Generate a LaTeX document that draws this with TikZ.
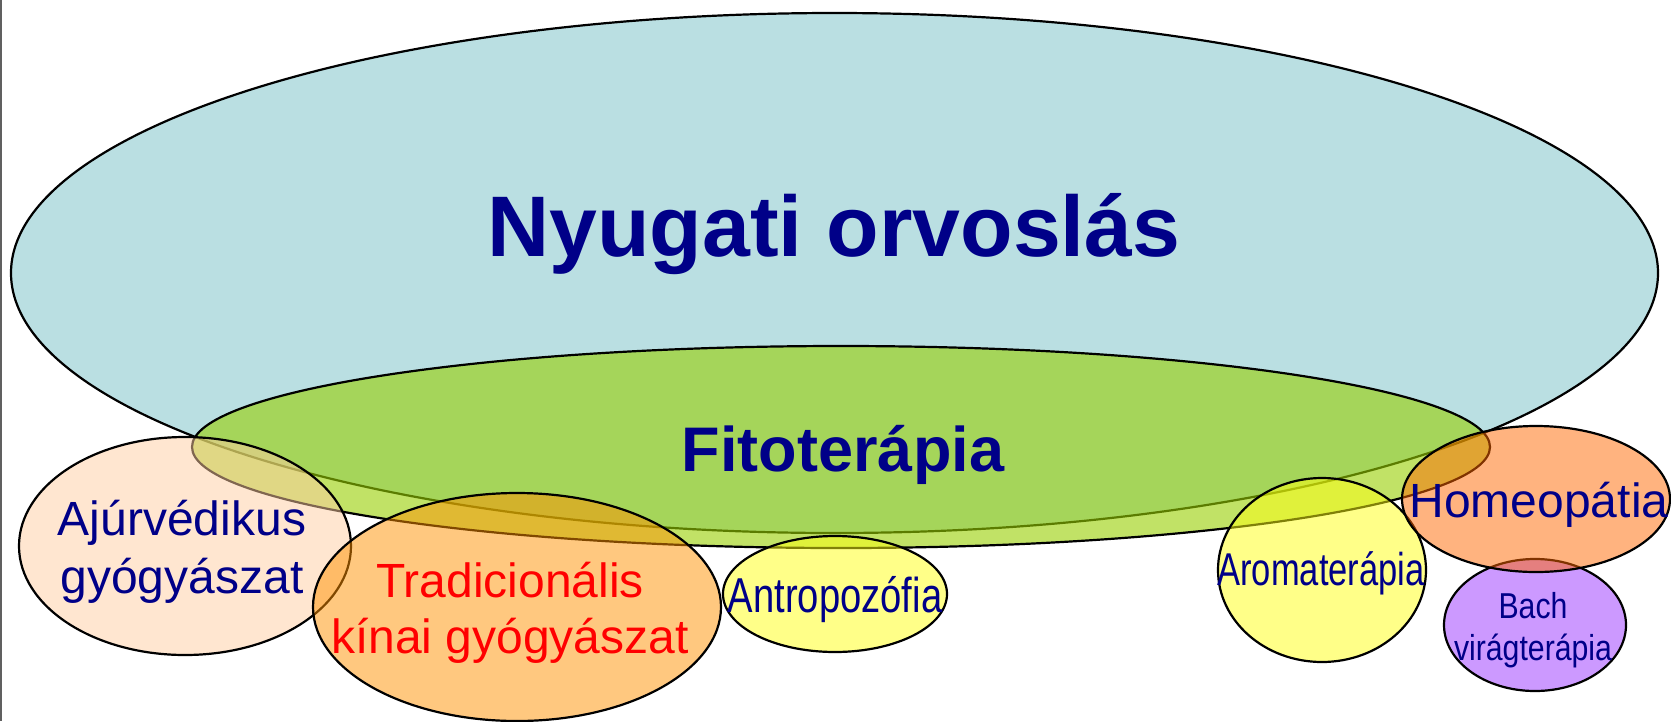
\documentclass[tikz,border=0pt]{standalone}
\usepackage{fontspec}
\setmainfont{Liberation Sans}
\usepackage{tikz}
\usetikzlibrary{shapes.geometric}
\definecolor{ink}{HTML}{000088}
\definecolor{western}{HTML}{BADFE2}
\definecolor{herbal}{HTML}{98CF00}
\definecolor{ayur}{HTML}{FFCDA1}
\definecolor{chinese}{HTML}{FF9100}
\definecolor{lemon}{HTML}{FFFF11}
\definecolor{homeo}{HTML}{FF6700}
\definecolor{bach}{HTML}{9933FF}
\definecolor{frame}{HTML}{606060}
\tikzset{
  patch/.style={ellipse, draw=black, line width=2.2pt, inner sep=0pt, fill opacity=0.5},
  term/.style={text=ink, anchor=base, align=center, inner sep=0pt},
  narrow/.style={font=\fontsize{#1}{#1}\selectfont\addfontfeatures{FakeStretch=0.78}}
}

\begin{document}
\begin{tikzpicture}[x=1pt, y=-1pt]
  \useasboundingbox (0,0) rectangle (1671,721);
  \draw[frame, line width=1.5pt] (1,0) -- (1,721);

  % fields
  \node[patch, fill=western, fill opacity=1, minimum width=1647pt, minimum height=520pt] (nyugati) at (834.5,273) {};
  \node[patch, fill=herbal, fill opacity=0.6, minimum width=1298pt, minimum height=202pt] (fito) at (841,447) {};
  \node[patch, fill=ayur, minimum width=332pt, minimum height=218pt] (ajur) at (185,546) {};
  \node[patch, fill=chinese, minimum width=408pt, minimum height=228pt] (tkg) at (517,607) {};
  \node[patch, fill=lemon, minimum width=224pt, minimum height=116pt] (antro) at (835,594) {};
  \node[patch, fill=lemon, minimum width=208pt, minimum height=184pt] (aroma) at (1322,570) {};
  \node[patch, fill=bach, minimum width=182pt, minimum height=132pt] (bach) at (1535,625) {};
  \node[patch, fill=homeo, minimum width=268pt, minimum height=146pt] (homeo) at (1536,499) {};

  % names (base = last line)
  \node[term, font=\fontsize{86}{100}\selectfont\bfseries] (nyugatitext) at (834,256) {Nyugati orvoslás};
  \node[term, font=\fontsize{63}{75}\selectfont\bfseries] (fitotext) at (843,471) {Fitoterápia};
  \node[term, font=\fontsize{48}{58}\selectfont] (ajurtext) at (182,593) {Ajúrvédikus\\gyógyászat};
  \node[term, text=red, font=\fontsize{48}{56}\selectfont] (tkgtext) at (510,653) {Tradicionális\\kínai gyógyászat};
  \node[term, narrow=49] (antrotext) at (835,612) {Antropozófia};
  \node[term, font=\fontsize{46}{46}\selectfont\addfontfeatures{FakeStretch=0.75}] (aromatext) at (1321,585) {Aromaterápia};
  \node[term, font=\fontsize{48}{58}\selectfont] (homeotext) at (1539,517) {Homeopátia};
  \node[term, font=\fontsize{36}{42}\selectfont\addfontfeatures{FakeStretch=0.84}] (bachtext) at (1533,660) {Bach\\virágterápia};
\end{tikzpicture}
\end{document}
